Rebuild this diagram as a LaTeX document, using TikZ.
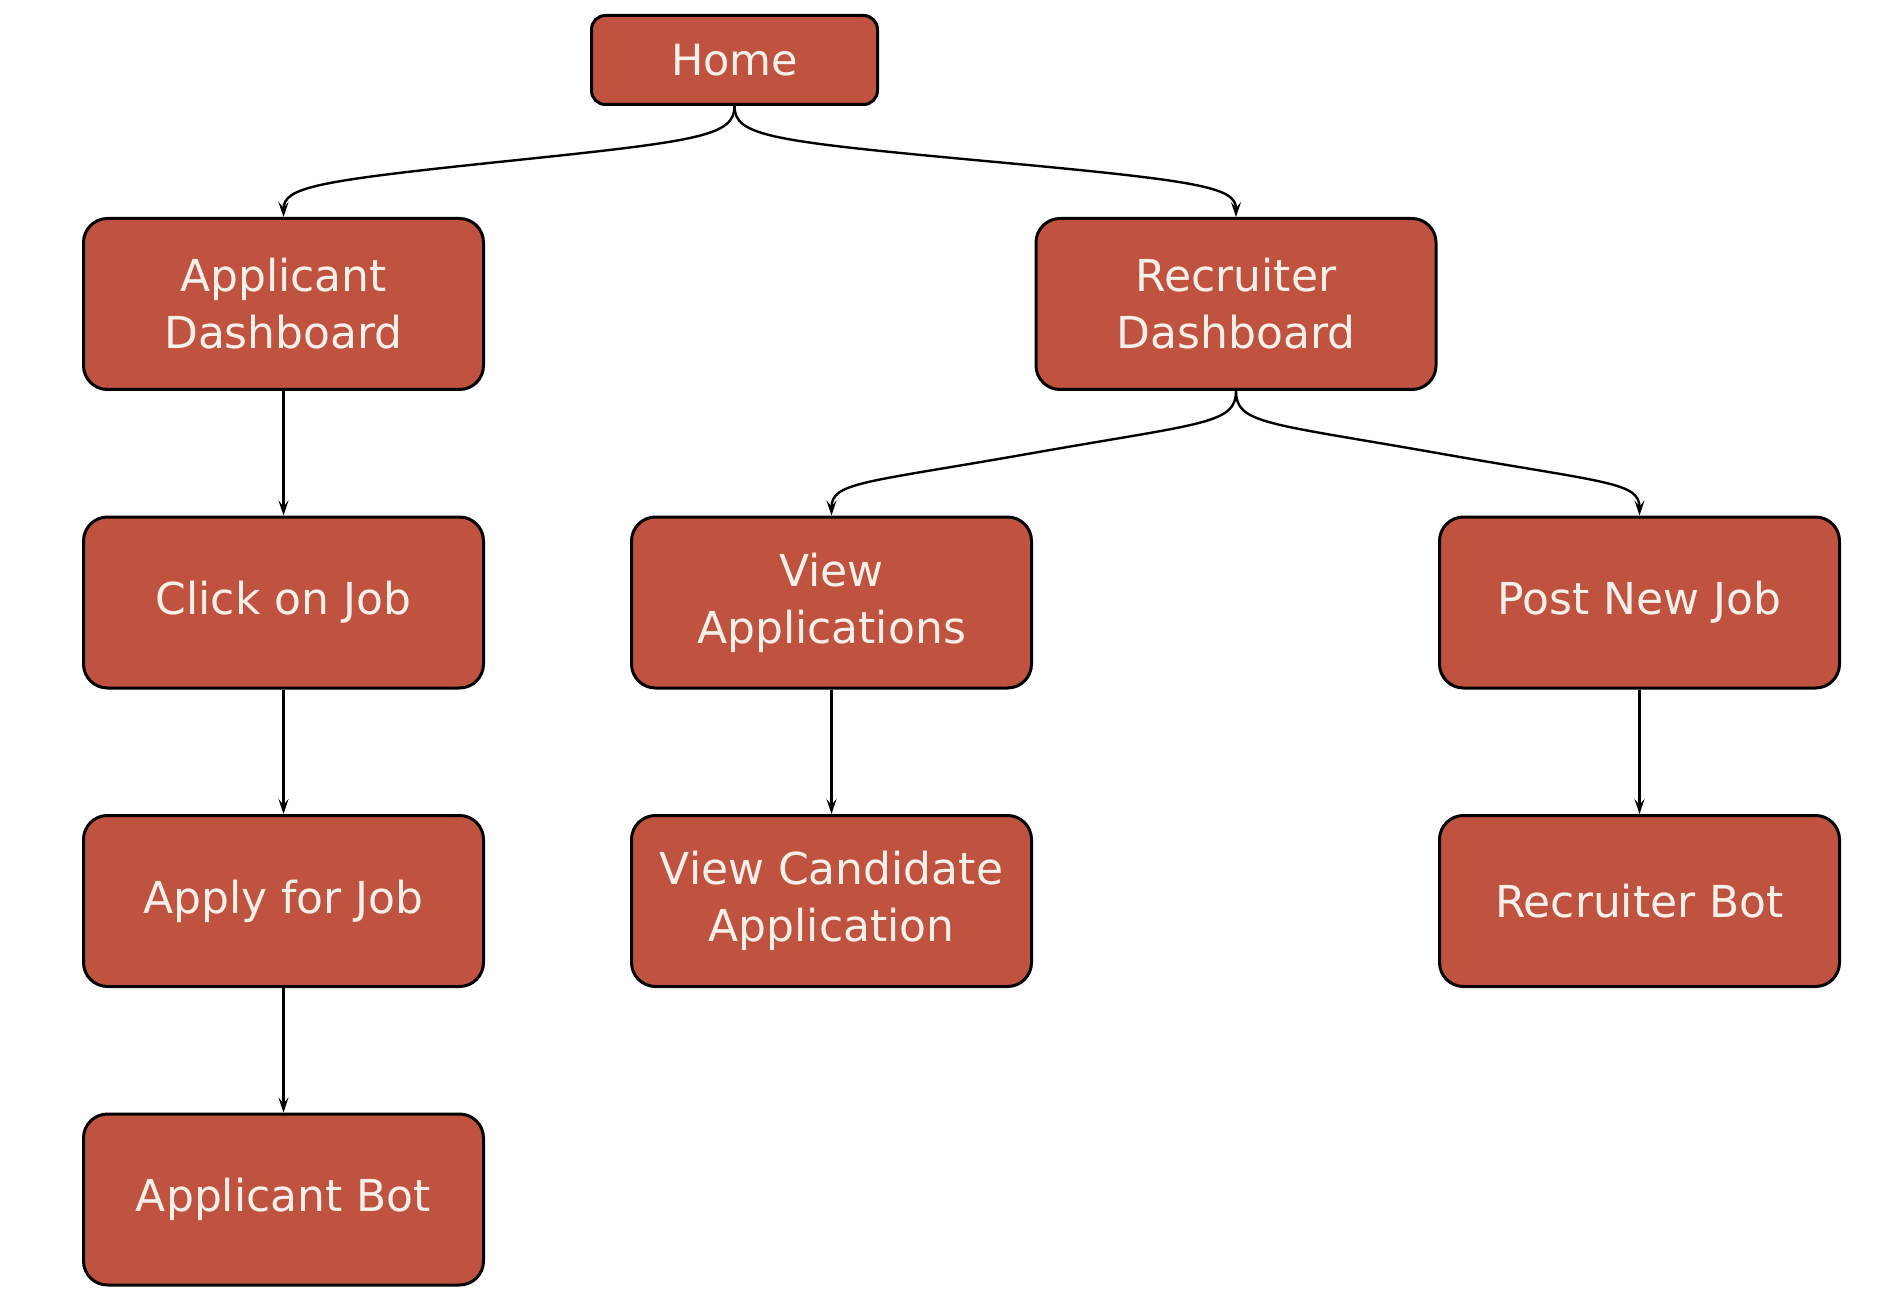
\documentclass[tikz,border=0pt]{standalone}
\usepackage{fontspec}
\setmainfont{DejaVu Sans}
\usetikzlibrary{arrows.meta}
\definecolor{boxfill}{HTML}{C0533F}
\definecolor{boxtext}{HTML}{F6F0EB}
\begin{document}
\begin{tikzpicture}[x=1pt,y=-1pt,
  box/.style={draw=black, line width=3pt, fill=boxfill, rounded corners=24pt,
    minimum width=400pt, minimum height=171pt, align=center, text=boxtext,
    inner sep=0pt, font=\fontsize{44}{57}\selectfont},
  arr/.style={line width=2.4pt, -{Stealth[length=15pt,width=10pt,inset=6pt]}}]
\useasboundingbox[fill=white] (0,0) rectangle (1888,1313);
\node[box, minimum width=286pt, minimum height=89pt, rounded corners=14pt,
  font=\fontsize{43}{56}\selectfont] (home) at (734.5,60) {Home};
\node[box] (ad) at (283.5,304) {Applicant\\Dashboard};
\node[box] (rd) at (1236,304) {Recruiter\\Dashboard};
\node[box] (click) at (283.5,602.5) {Click on Job};
\node[box] (va) at (831.5,602.5) {View\\Applications};
\node[box] (pnj) at (1639.5,602.5) {Post New Job};
\node[box] (apply) at (283.5,901) {Apply for Job};
\node[box] (vca) at (831.5,901) {View Candidate\\Application};
\node[box] (rb) at (1639.5,901) {Recruiter Bot};
\node[box] (ab) at (283.5,1199.5) {Applicant Bot};
\coordinate (m1) at (508,161);
\coordinate (m2) at (985,161);
\coordinate (m3) at (1033,453);
\coordinate (m4) at (1437,453);
\draw[arr] (home.south) .. controls (734.5,136) and (700,141) .. (m1)
  .. controls (316,181) and (283.5,187) .. (ad.north);
\draw[arr] (home.south) .. controls (734.5,136) and (769,141) .. (m2)
  .. controls (1202,181) and (1236,187) .. (rd.north);
\draw[arr] (rd.south) .. controls (1236,424) and (1203,423) .. (m3)
  .. controls (863,483) and (831.5,482) .. (va.north);
\draw[arr] (rd.south) .. controls (1236,424) and (1267,423) .. (m4)
  .. controls (1607,483) and (1639.5,482) .. (pnj.north);
\draw[arr] (ad.south) -- (click.north);
\draw[arr] (click.south) -- (apply.north);
\draw[arr] (apply.south) -- (ab.north);
\draw[arr] (va.south) -- (vca.north);
\draw[arr] (pnj.south) -- (rb.north);
\end{tikzpicture}
\end{document}
